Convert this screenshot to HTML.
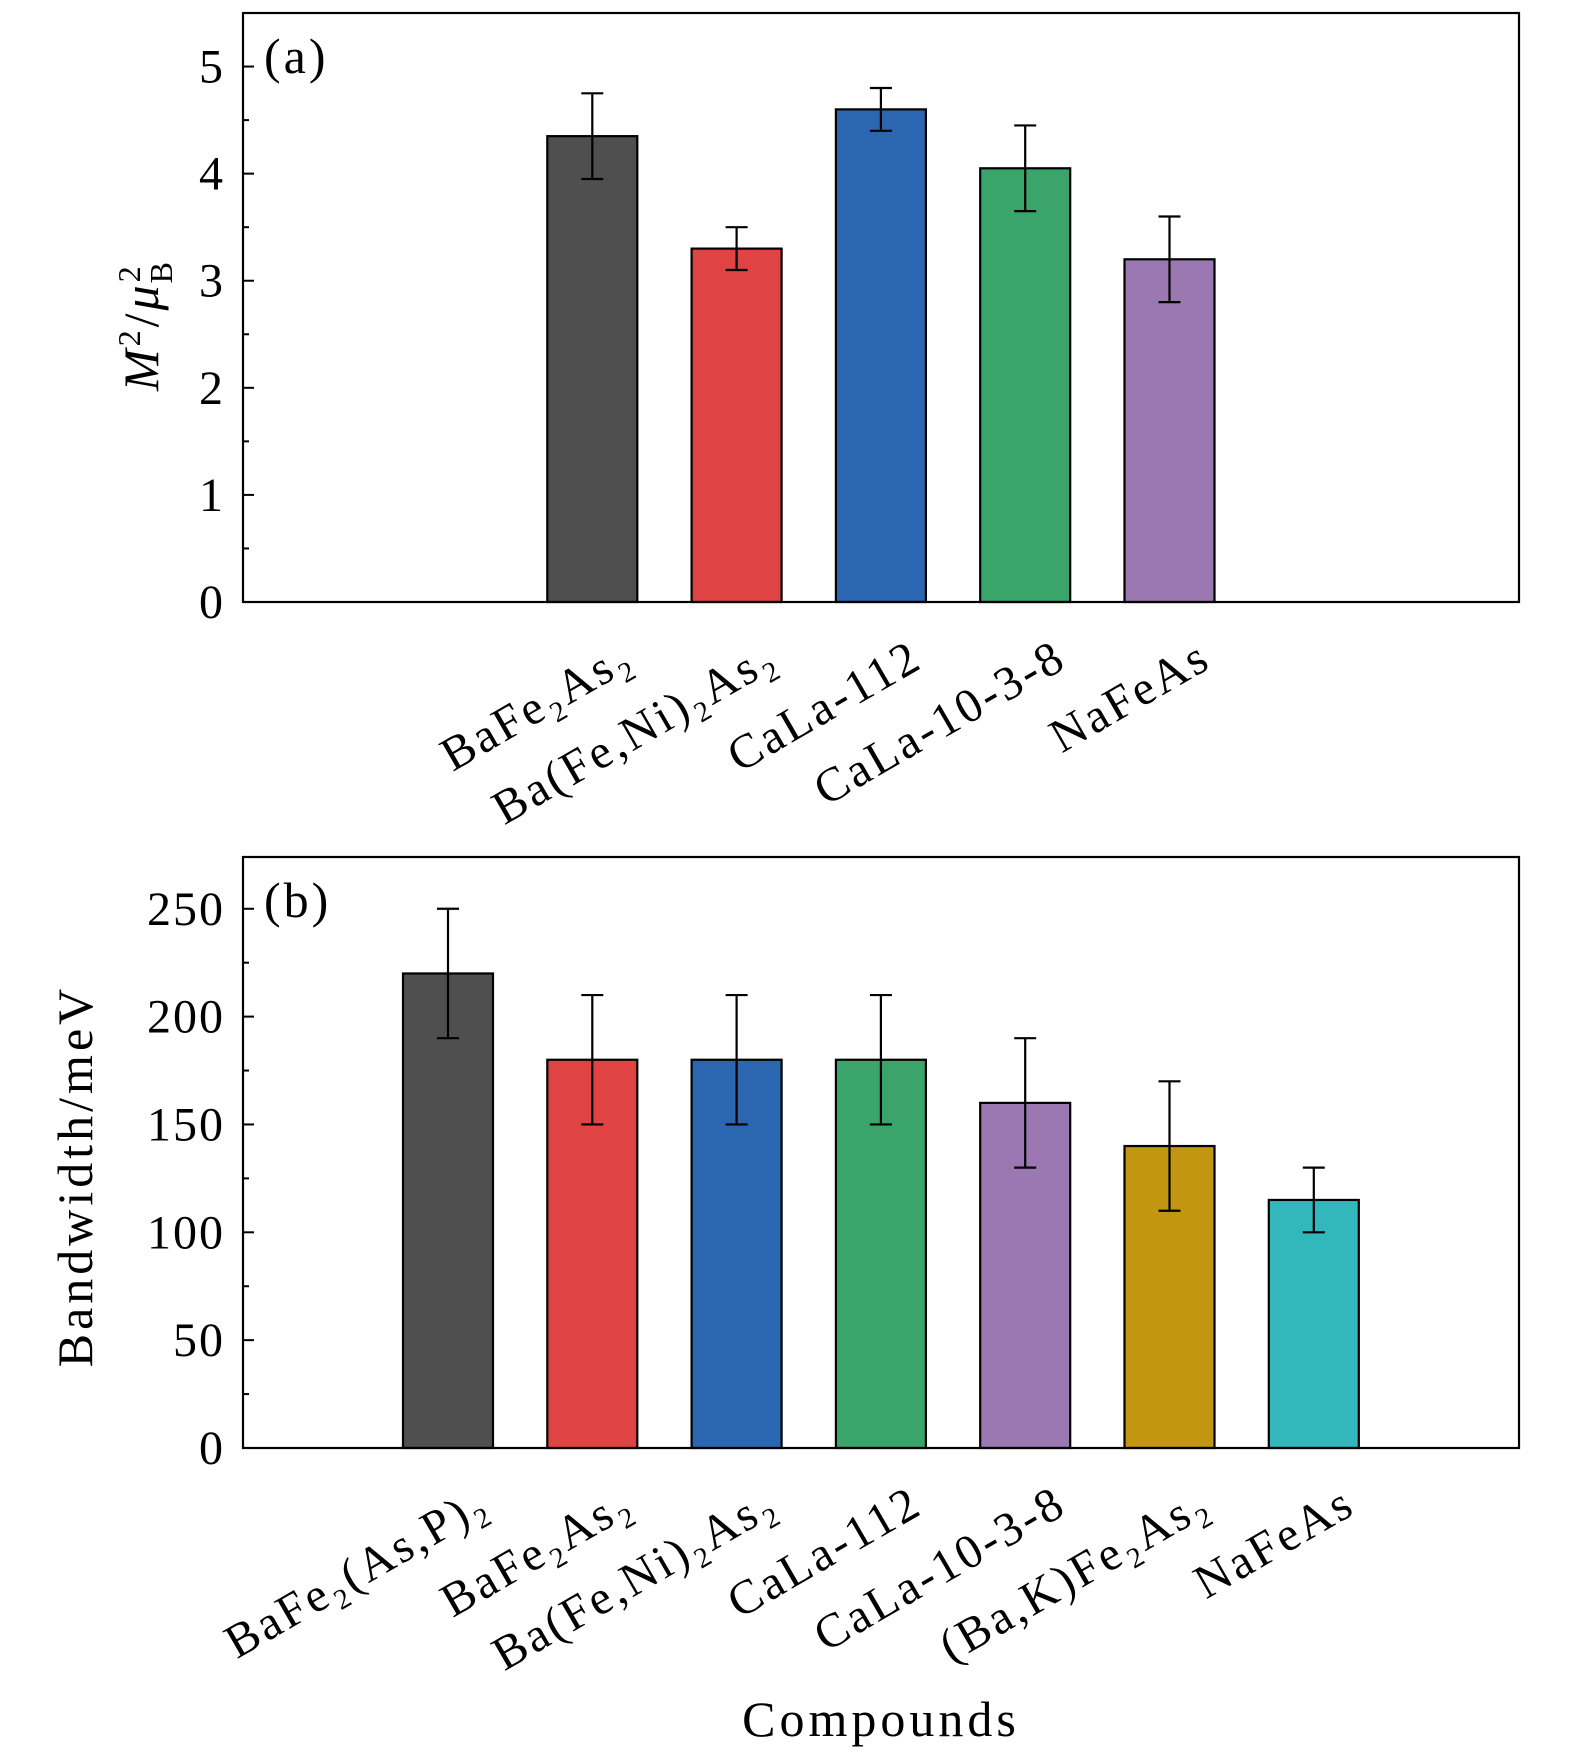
<!DOCTYPE html>
<html><head><meta charset="utf-8"><style>
html,body{margin:0;padding:0;background:#fff}
svg{display:block;font-family:"Liberation Serif",serif}
</style></head><body>
<svg id="chart" width="1575" height="1762" viewBox="0 0 1575 1762" xmlns="http://www.w3.org/2000/svg"></svg>
<script>
const catsA = ["BaFe₂As₂","Ba(Fe,Ni)₂As₂","CaLa-112","CaLa-10-3-8","NaFeAs"];
const idxA = [1,2,3,4,5];
const valsA = [4.35,3.3,4.6,4.05,3.2];
const errA = [0.4,0.2,0.2,0.4,0.4];
const colA = ["#4f4f4f","#e04343","#2a67b0","#3aa46a","#9b78b2"];
const ticksA = [0,1,2,3,4,5];

const catsB = ["BaFe₂(As,P)₂","BaFe₂As₂","Ba(Fe,Ni)₂As₂","CaLa-112","CaLa-10-3-8","(Ba,K)Fe₂As₂","NaFeAs"];
const idxB = [0,1,2,3,4,5,6];
const valsB = [220,180,180,180,160,140,115];
const errB = [30,30,30,30,30,30,15];
const colB = ["#4f4f4f","#e04343","#2a67b0","#3aa46a","#9b78b2","#c39612","#32b8bc"];
const ticksB = [0,50,100,150,200,250];

const svg = document.getElementById('chart');
const NS = "http://www.w3.org/2000/svg";
function mk(tag, attrs, parent){const e=document.createElementNS(NS,tag);for(const k in attrs)e.setAttribute(k,attrs[k]);(parent||svg).appendChild(e);return e;}

const L=243,R=1519;
const xOf = i => 448 + 144.3*i;
const BW = 90;

function panel(cfg){
  const {top,bottom,ymax,ticks,minor,idx,vals,errs,cols,cats,label,name}=cfg;
  const y = v => bottom - (v/ymax)*(bottom-top);
  const g = mk('g',{});
  
  
  vals.forEach((v,k)=>{
    const cx=xOf(idx[k]);
    const b=mk('rect',{x:cx-BW/2,y:y(v),width:BW,height:bottom-y(v),fill:cols[k],stroke:'#000','stroke-width':2.2},g);
    
    
    const e=mk('path',{d:`M${cx},${y(v+errs[k])}V${y(v-errs[k])}M${cx-11},${y(v+errs[k])}H${cx+11}M${cx-11},${y(v-errs[k])}H${cx+11}`,stroke:'#000','stroke-width':2.2,fill:'none'},g);
    
    
    const t=mk('text',{x:0,y:0,'font-size':48,'letter-spacing':3,'text-anchor':'end',transform:`translate(${cx+44},${bottom+64}) rotate(-30)`},g);
    t.textContent=cats[k];
    
    
  });
  ticks.forEach(v=>{
    mk('line',{x1:L,x2:L+11,y1:y(v),y2:y(v),stroke:'#000','stroke-width':2},g);
    const t=mk('text',{x:L-18,y:y(v)+16,'font-size':48,'letter-spacing':2,'text-anchor':'end'},g);
    t.textContent=v;
    
    
  });
  for(let v=minor;v<ymax;v+=minor*2){
    mk('line',{x1:L,x2:L+6,y1:y(v),y2:y(v),stroke:'#000','stroke-width':2},g);
  }
  const ax=mk('rect',{x:L,y:top,width:R-L,height:bottom-top,fill:'none',stroke:'#000','stroke-width':2.2},g);
  
  
  const pl=mk('text',{x:264,y:top+60,'font-size':50,'letter-spacing':3},g);
  pl.textContent=label;
  
  
}
panel({top:13,bottom:602,ymax:5.5,ticks:ticksA,minor:0.5,idx:idxA,vals:valsA,errs:errA,cols:colA,cats:catsA,label:'(a)',name:'panel-a'});
panel({top:857,bottom:1448,ymax:274,ticks:ticksB,minor:25,idx:idxB,vals:valsB,errs:errB,cols:colB,cats:catsB,label:'(b)',name:'panel-b'});

const ya=mk('text',{x:0,y:0,'font-size':50,'letter-spacing':3,'text-anchor':'middle',transform:'translate(158,325) rotate(-90)'});
ya.innerHTML='<tspan font-style="italic">M</tspan><tspan font-size="32" dy="-18">2</tspan><tspan dy="18">/</tspan><tspan font-style="italic">μ</tspan><tspan font-size="32" dy="-18">2</tspan><tspan font-size="32" dx="-20" dy="32">B</tspan>';


const yb=mk('text',{x:0,y:0,'font-size':50,'letter-spacing':4,'text-anchor':'middle',transform:'translate(92,1176) rotate(-90)'});
yb.textContent='Bandwidth/meV';


const xt=mk('text',{x:881,y:1736,'font-size':50,'letter-spacing':4,'text-anchor':'middle'});
xt.textContent='Compounds';


</script>
</body></html>
